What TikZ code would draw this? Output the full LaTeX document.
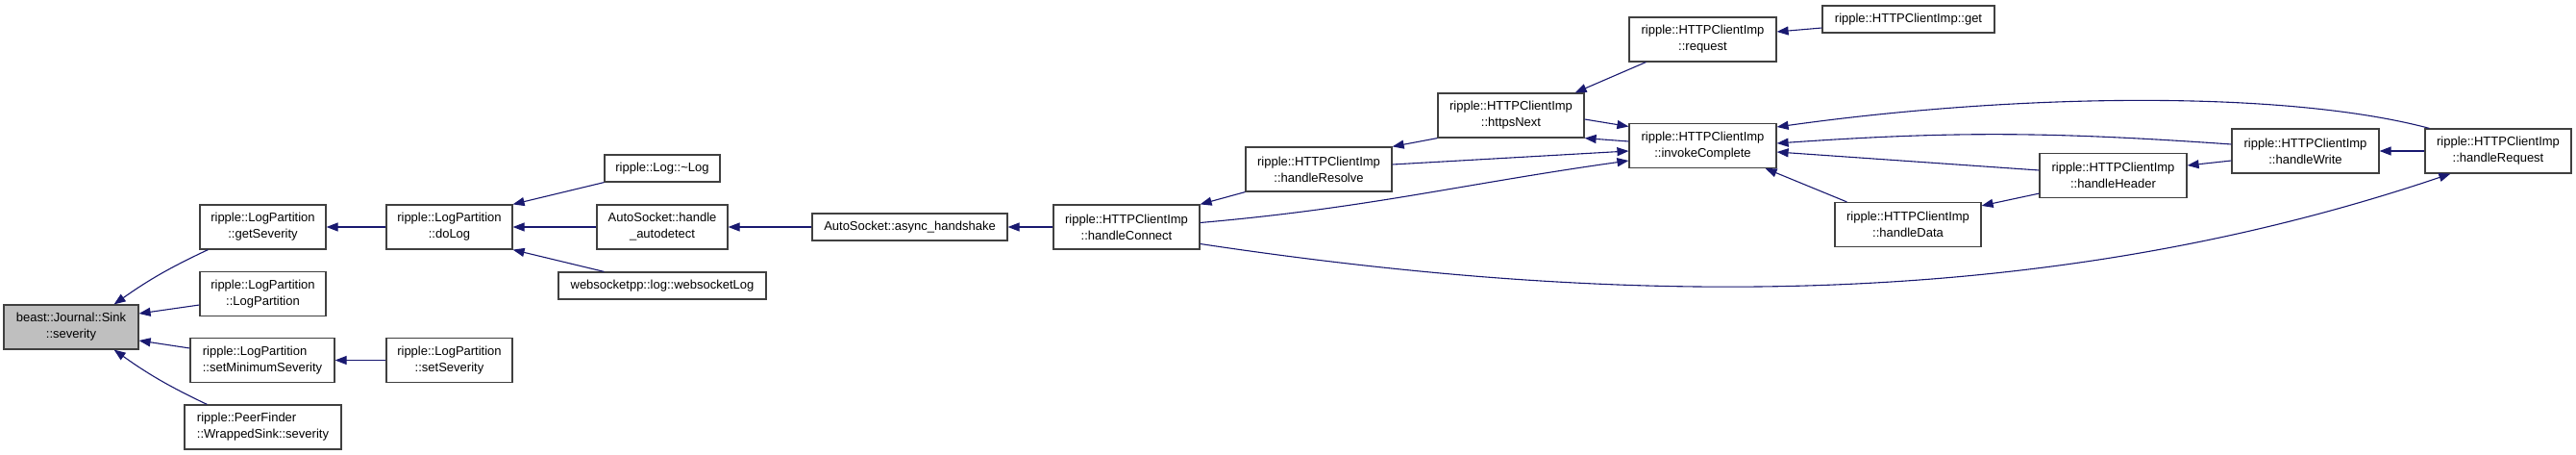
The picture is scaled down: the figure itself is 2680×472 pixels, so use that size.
\documentclass[tikz,border=0pt]{standalone}
\usepackage{fontspec}
\setmainfont{Liberation Sans}
\usetikzlibrary{arrows.meta,calc}
\definecolor{callblue}{RGB}{25,25,112}
\definecolor{rootgray}{RGB}{191,191,191}
\definecolor{boxline}{RGB}{64,64,64}
\tikzset{
  fnode/.style ={rectangle, draw=boxline, fill=white, line width=1.2pt,
                 minimum height=46pt, inner sep=2pt, align=center,
                 font=\fontsize{13}{17}\selectfont},
  fnleft/.style={fnode, align=left},
  fnone/.style ={fnode, minimum height=28pt},
  fnroot/.style={fnode, fill=rootgray},
  gcall/.style ={-{Triangle[length=12pt, width=9pt]}, line width=1.1pt, callblue},
}
\begin{document}
\begin{tikzpicture}[x=1pt, y=1pt]
  \useasboundingbox (0,0) rectangle (2680,472);
  % root and its callers
  \node[fnroot, minimum width=140pt] (sev) at (74,132) {beast::Journal::Sink\\::severity};
  \node[fnode,  minimum width=131pt] (getsev)  at (273.5,236)   {ripple::LogPartition\\::getSeverity};
  \node[fnode,  minimum width=131pt] (ctor)    at (273.5,166.5) {ripple::LogPartition\\::LogPartition};
  \node[fnleft, minimum width=150pt] (setmin)  at (273,97.5)    {ripple::LogPartition\\::setMinimumSeverity};
  \node[fnleft, minimum width=163pt] (wrapped) at (273.5,28)    {ripple::PeerFinder\\::WrappedSink::severity};
  \node[fnode,  minimum width=131pt] (dolog)   at (467.5,236)   {ripple::LogPartition\\::doLog};
  \node[fnode,  minimum width=131pt] (setsev)  at (467.5,97.5)  {ripple::LogPartition\\::setSeverity};
  % logging side
  \node[fnone, minimum width=120pt] (dtor)    at (689,297) {ripple::Log::\textasciitilde Log};
  \node[fnode, minimum width=136pt] (autodet) at (689,236) {AutoSocket::handle\\\_autodetect};
  \node[fnone, minimum width=216pt] (wslog)   at (689,175) {websocketpp::log::websocketLog};
  \node[fnone, minimum width=203pt] (async)   at (946.5,236) {AutoSocket::async\_handshake};
  % http client
  \node[fnode, minimum width=152pt] (connect) at (1172,236)    {ripple::HTTPClientImp\\::handleConnect};
  \node[fnode, minimum width=152pt] (resolve) at (1372,296)    {ripple::HTTPClientImp\\::handleResolve};
  \node[fnode, minimum width=152pt] (https)   at (1572,352)    {ripple::HTTPClientImp\\::httpsNext};
  \node[fnode, minimum width=153pt] (request) at (1771.5,431)  {ripple::HTTPClientImp\\::request};
  \node[fnone, minimum width=179pt] (get)     at (1985.5,452)  {ripple::HTTPClientImp::get};
  \node[fnode, minimum width=153pt] (invoke)  at (1771.5,320.5) {ripple::HTTPClientImp\\::invokeComplete};
  \node[fnode, minimum width=152pt] (data)    at (1985,238.5)  {ripple::HTTPClientImp\\::handleData};
  \node[fnode, minimum width=153pt] (header)  at (2198.5,289.5) {ripple::HTTPClientImp\\::handleHeader};
  \node[fnode, minimum width=153pt] (write)   at (2398.5,315)  {ripple::HTTPClientImp\\::handleWrite};
  \node[fnode, minimum width=152pt] (reqh)    at (2599,315)    {ripple::HTTPClientImp\\::handleRequest};

  % straight calls
  \foreach \a/\b in {dolog/getsev, setsev/setmin, autodet/dolog, async/autodet,
                     connect/async, reqh/write}
    \draw[gcall] (\a) -- (\b);
  \draw[gcall] ([xshift=9pt]getsev.south west) to[bend right=5] ([xshift=-26pt]sev.north east);
  \draw[gcall] ([yshift=-11.5pt]ctor.west) -- ([yshift=14pt]sev.east);
  \draw[gcall] ([yshift=12.5pt]setmin.west) -- ([yshift=-14pt]sev.east);
  \draw[gcall] ([xshift=24pt]wrapped.north west) to[bend left=5] ([xshift=-26pt]sev.south east);
  \draw[gcall] (dtor.south west) -- (dolog.north east);
  \draw[gcall] ([xshift=48pt]wslog.north west) -- (dolog.south east);
  \draw[gcall] (resolve.south west) -- (connect.north east);
  \draw[gcall] (https.south west) -- (resolve.north east);
  \draw[gcall] ([xshift=18pt]request.south west) -- ([xshift=-10pt]https.north east);
  \draw[gcall] ([yshift=-9pt]get.west) -- ([yshift=8pt]request.east);
  % into invokeComplete
  \draw[gcall] ([yshift=-4pt]https.east) -- ([yshift=20pt]invoke.west);
  \draw[gcall] ([yshift=4.5pt]invoke.west) -- (https.south east);
  \draw[gcall] ([yshift=5pt]resolve.east) -- ([yshift=-5.5pt]invoke.west);
  \draw[gcall] ([yshift=4.5pt]connect.east) to[out=5, in=188] ([yshift=-15.5pt]invoke.west);
  \draw[gcall] ([xshift=5pt]reqh.north west) .. controls +(-150,40) and +(250,35) .. ([yshift=19.5pt]invoke.east);
  \draw[gcall] ([yshift=7pt]write.west) to[out=176, in=4] ([yshift=2.5pt]invoke.east);
  \draw[gcall] ([yshift=5.5pt]header.west) -- ([yshift=-6.5pt]invoke.east);
  \draw[gcall] ([xshift=13pt]data.north west) -- ([xshift=-12pt]invoke.south east);
  \draw[gcall] ([yshift=5pt]header.south west) -- ([yshift=-4pt]data.north east);
  \draw[gcall] ([yshift=-10pt]write.west) -- ([yshift=10.5pt]header.east);
  \draw[gcall] ([yshift=-17.5pt]connect.east) .. controls +(400,-60) and +(-450,-152) .. ([xshift=27pt]reqh.south west);
\end{tikzpicture}
\end{document}
